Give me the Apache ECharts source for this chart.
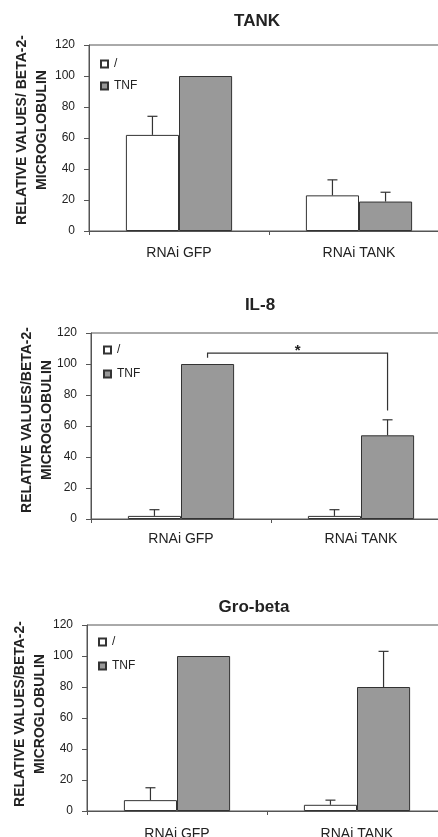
<!DOCTYPE html>
<html>
<head>
<meta charset="utf-8">
<script src="https://cdn.jsdelivr.net/npm/echarts@6/dist/echarts.min.js"></script>
<style>
  html, body { margin: 0; padding: 0; background: #fff; }
  #chart { width: 438px; height: 837px; }
</style>
</head>
<body>
<div id="chart"></div>
<script>
const categories = ['RNAi GFP', 'RNAi TANK'];
const titles = ['TANK', 'IL-8', 'Gro-beta'];
const yNames = [
  'RELATIVE VALUES/ BETA-2-\nMICROGLOBULIN',
  'RELATIVE VALUES/BETA-2-\nMICROGLOBULIN',
  'RELATIVE VALUES/BETA-2-\nMICROGLOBULIN'
];
const legendNames = ['/', 'TNF'];

// TANK panel
const tankCtrl = [62, 23];
const tankCtrlErr = [12, 10];
const tankTnf = [100, 19];
const tankTnfErr = [0, 6];
// IL-8 panel
const il8Ctrl = [2, 2];
const il8CtrlErr = [4, 4];
const il8Tnf = [100, 54];
const il8TnfErr = [0, 10];
// Gro-beta panel
const groCtrl = [7, 4];
const groCtrlErr = [8, 3];
const groTnf = [100, 80];
const groTnfErr = [0, 23];
// significance bracket in IL-8: top, left foot, right foot
const il8Bracket = [107, 104, 70];

const FONT = "'Liberation Sans', Arial, sans-serif";
const INK = '#222';
const GAP = 0.41;

const panels = [
  { ctrl: tankCtrl, ctrlErr: tankCtrlErr, tnf: tankTnf, tnfErr: tankTnfErr,
    grid: { left: 89, top: 45, width: 360, height: 186 },
    legend: { left: 100, top: 58, gap: 10 }, labelMargin: 15,
    title: [257, 21], name: [32, 130] },
  { ctrl: il8Ctrl, ctrlErr: il8CtrlErr, tnf: il8Tnf, tnfErr: il8TnfErr,
    grid: { left: 91, top: 333, width: 360, height: 186 },
    legend: { left: 103, top: 344, gap: 12 }, labelMargin: 13,
    title: [260, 305], name: [37, 420] },
  { ctrl: groCtrl, ctrlErr: groCtrlErr, tnf: groTnf, tnfErr: groTnfErr,
    grid: { left: 87, top: 625, width: 360, height: 186 },
    legend: { left: 98, top: 636, gap: 12 }, labelMargin: 16,
    title: [254, 607], name: [30, 714] }
];

function errSeries(idx, vals, errs, side) {
  return {
    type: 'custom',
    name: 'err' + idx + side,
    xAxisIndex: idx,
    yAxisIndex: idx,
    z: 5,
    silent: true,
    data: vals.map((v, i) => [i, v, errs[i]]),
    renderItem: function (params, api) {
      const err = api.value(2);
      if (!err) return null;
      const base = api.coord([api.value(0), api.value(1)]);
      const top = api.coord([api.value(0), api.value(1) + err]);
      const barW = api.size([1, 0])[0] * (1 - GAP) / 2;
      const x = base[0] + side * barW / 2;
      const st = { stroke: '#333', lineWidth: 1.2 };
      return {
        type: 'group',
        children: [
          { type: 'line', shape: { x1: x, y1: base[1], x2: x, y2: top[1] }, style: st },
          { type: 'line', shape: { x1: x - 5, y1: top[1], x2: x + 5, y2: top[1] }, style: st }
        ]
      };
    }
  };
}

const option = {
  animation: false,
  backgroundColor: '#fff',
  textStyle: { fontFamily: FONT },
  grid: [],
  xAxis: [],
  yAxis: [],
  legend: [],
  series: [],
  graphic: []
};

panels.forEach((p, i) => {
  option.grid.push(Object.assign({
    show: true, borderColor: '#555', borderWidth: 1,
    containLabel: false, outerBoundsMode: 'none'
  }, p.grid));
  option.xAxis.push({
    type: 'category',
    gridIndex: i,
    data: categories,
    axisLine: { lineStyle: { color: '#555', width: 1 } },
    axisTick: { show: true, length: 4, lineStyle: { color: '#555' } },
    axisLabel: { color: INK, fontSize: 14, fontFamily: FONT, margin: p.labelMargin }
  });
  option.yAxis.push({
    type: 'value',
    gridIndex: i,
    min: 0,
    max: 120,
    interval: 20,
    splitLine: { show: false },
    axisLine: { show: true, lineStyle: { color: '#555', width: 1 } },
    axisTick: { show: true, length: 5, lineStyle: { color: '#555' } },
    axisLabel: { color: INK, fontSize: 12, fontFamily: FONT, margin: 14 }
  });
  option.legend.push({
    orient: 'vertical',
    left: p.legend.left,
    top: p.legend.top,
    padding: 0,
    itemWidth: 7,
    itemHeight: 7,
    itemGap: p.legend.gap,
    icon: 'rect',
    data: legendNames,
    textStyle: { color: INK, fontSize: 12, fontFamily: FONT, padding: [0, 0, 0, 1] }
  });
  option.series.push({
    type: 'bar',
    name: legendNames[0],
    xAxisIndex: i,
    yAxisIndex: i,
    data: p.ctrl,
    barGap: '0%',
    barCategoryGap: (GAP * 100) + '%',
    itemStyle: { color: '#ffffff', borderColor: '#333', borderWidth: 1 }
  });
  option.series.push({
    type: 'bar',
    name: legendNames[1],
    xAxisIndex: i,
    yAxisIndex: i,
    data: p.tnf,
    barGap: '0%',
    barCategoryGap: (GAP * 100) + '%',
    itemStyle: { color: '#999999', borderColor: '#333', borderWidth: 1 }
  });
  option.series.push(errSeries(i, p.ctrl, p.ctrlErr, -1));
  option.series.push(errSeries(i, p.tnf, p.tnfErr, 1));
  option.graphic.push({
    type: 'text',
    x: p.title[0],
    y: p.title[1],
    style: {
      text: titles[i], fill: INK, font: 'bold 17px ' + FONT,
      align: 'center', verticalAlign: 'middle'
    }
  });
  option.graphic.push({
    type: 'text',
    x: p.name[0],
    y: p.name[1],
    rotation: Math.PI / 2,
    style: {
      text: yNames[i], fill: INK, font: 'bold 14px ' + FONT,
      lineHeight: 20, align: 'center', verticalAlign: 'middle'
    }
  });
});

// significance bracket between the two TNF bars of the IL-8 panel
option.series.push({
  type: 'custom',
  name: 'bracket',
  xAxisIndex: 1,
  yAxisIndex: 1,
  z: 6,
  silent: true,
  data: [[0, il8Bracket[0]]],
  renderItem: function (params, api) {
    const barW = api.size([1, 0])[0] * (1 - GAP) / 2;
    const l = api.coord([0, il8Bracket[0]]);
    const r = api.coord([1, il8Bracket[0]]);
    const lx = l[0] + barW / 2;
    const rx = r[0] + barW / 2;
    const lFoot = api.coord([0, il8Bracket[1]])[1];
    const rFoot = api.coord([1, il8Bracket[2]])[1];
    return {
      type: 'group',
      children: [
        { type: 'polyline', shape: { points: [[lx, lFoot], [lx, l[1]], [rx, l[1]], [rx, rFoot]] },
          style: { stroke: '#333', lineWidth: 1.2, fill: null } },
        { type: 'text', x: (lx + rx) / 2, y: l[1] + 5,
          style: { text: '*', fill: INK, font: 'bold 15px ' + FONT, align: 'center', verticalAlign: 'bottom' } }
      ]
    };
  }
});

const chart = echarts.init(document.getElementById('chart'));
chart.setOption(option);
</script>
</body>
</html>
